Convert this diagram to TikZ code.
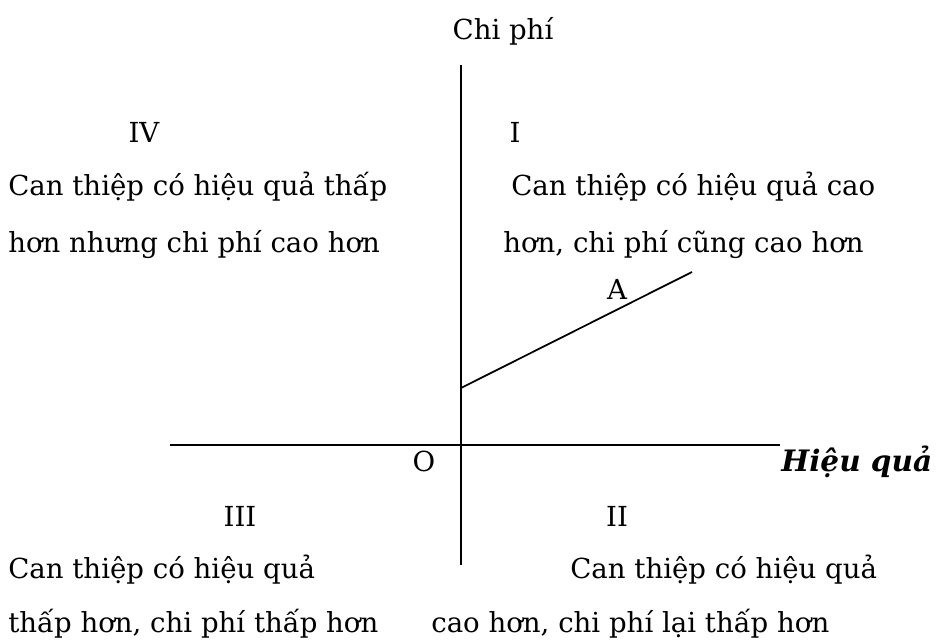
\documentclass[tikz,border=0pt]{standalone}
\usepackage{fontspec}
\setmainfont{DejaVu Serif}
\begin{document}
\begin{tikzpicture}[x=0.02cm, y=-0.02cm, every node/.style={font=\fontsize{15.7}{18}\selectfont, inner sep=0pt}, txt/.style={anchor=base west}, num/.style={anchor=base}]
        \useasboundingbox (0,0) rectangle (945,639);
        % axes
        \coordinate (ytop) at (461,65);
        \coordinate (ybot) at (461,565);
        \coordinate (xleft) at (170,445);
        \coordinate (xright) at (780,445);
        \coordinate (astart) at (461,388);
        \coordinate (aend) at (692,272);
        \draw[line width=1pt] (ytop) -- (ybot);
        \draw[line width=1pt] (xleft) -- (xright);
        \draw[line width=1pt] (astart) -- (aend);
        % labels
        \node[num] (cost) at (503,39) {Chi phí};
        \node[num] (q4) at (144,142) {IV};
        \node[num] (q1) at (515,142) {I};
        \node[txt] (q4a) at (8,195) {Can thiệp có hiệu quả thấp};
        \node[txt] (q4b) at (8,252) {hơn nhưng chi phí cao hơn};
        \node[txt] (q1a) at (511,195) {Can thiệp có hiệu quả cao};
        \node[txt] (q1b) at (503,252) {hơn, chi phí cũng cao hơn};
        \node[num] (ptA) at (617,299) {A};
        \node[num] (orig) at (424,471) {O};
        \node[txt, font=\fontsize{16.8}{19}\selectfont\bfseries\itshape] (eff) at (781,471) {Hiệu quả};
        \node[num] (q3) at (240,526) {III};
        \node[num] (q2) at (617,526) {II};
        \node[txt] (q3a) at (8,578) {Can thiệp có hiệu quả};
        \node[txt] (q3b) at (8,632) {thấp hơn, chi phí thấp hơn};
        \node[txt] (q2a) at (570,578) {Can thiệp có hiệu quả};
        \node[txt] (q2b) at (431,632) {cao hơn, chi phí lại thấp hơn};
    \end{tikzpicture}
\end{document}
